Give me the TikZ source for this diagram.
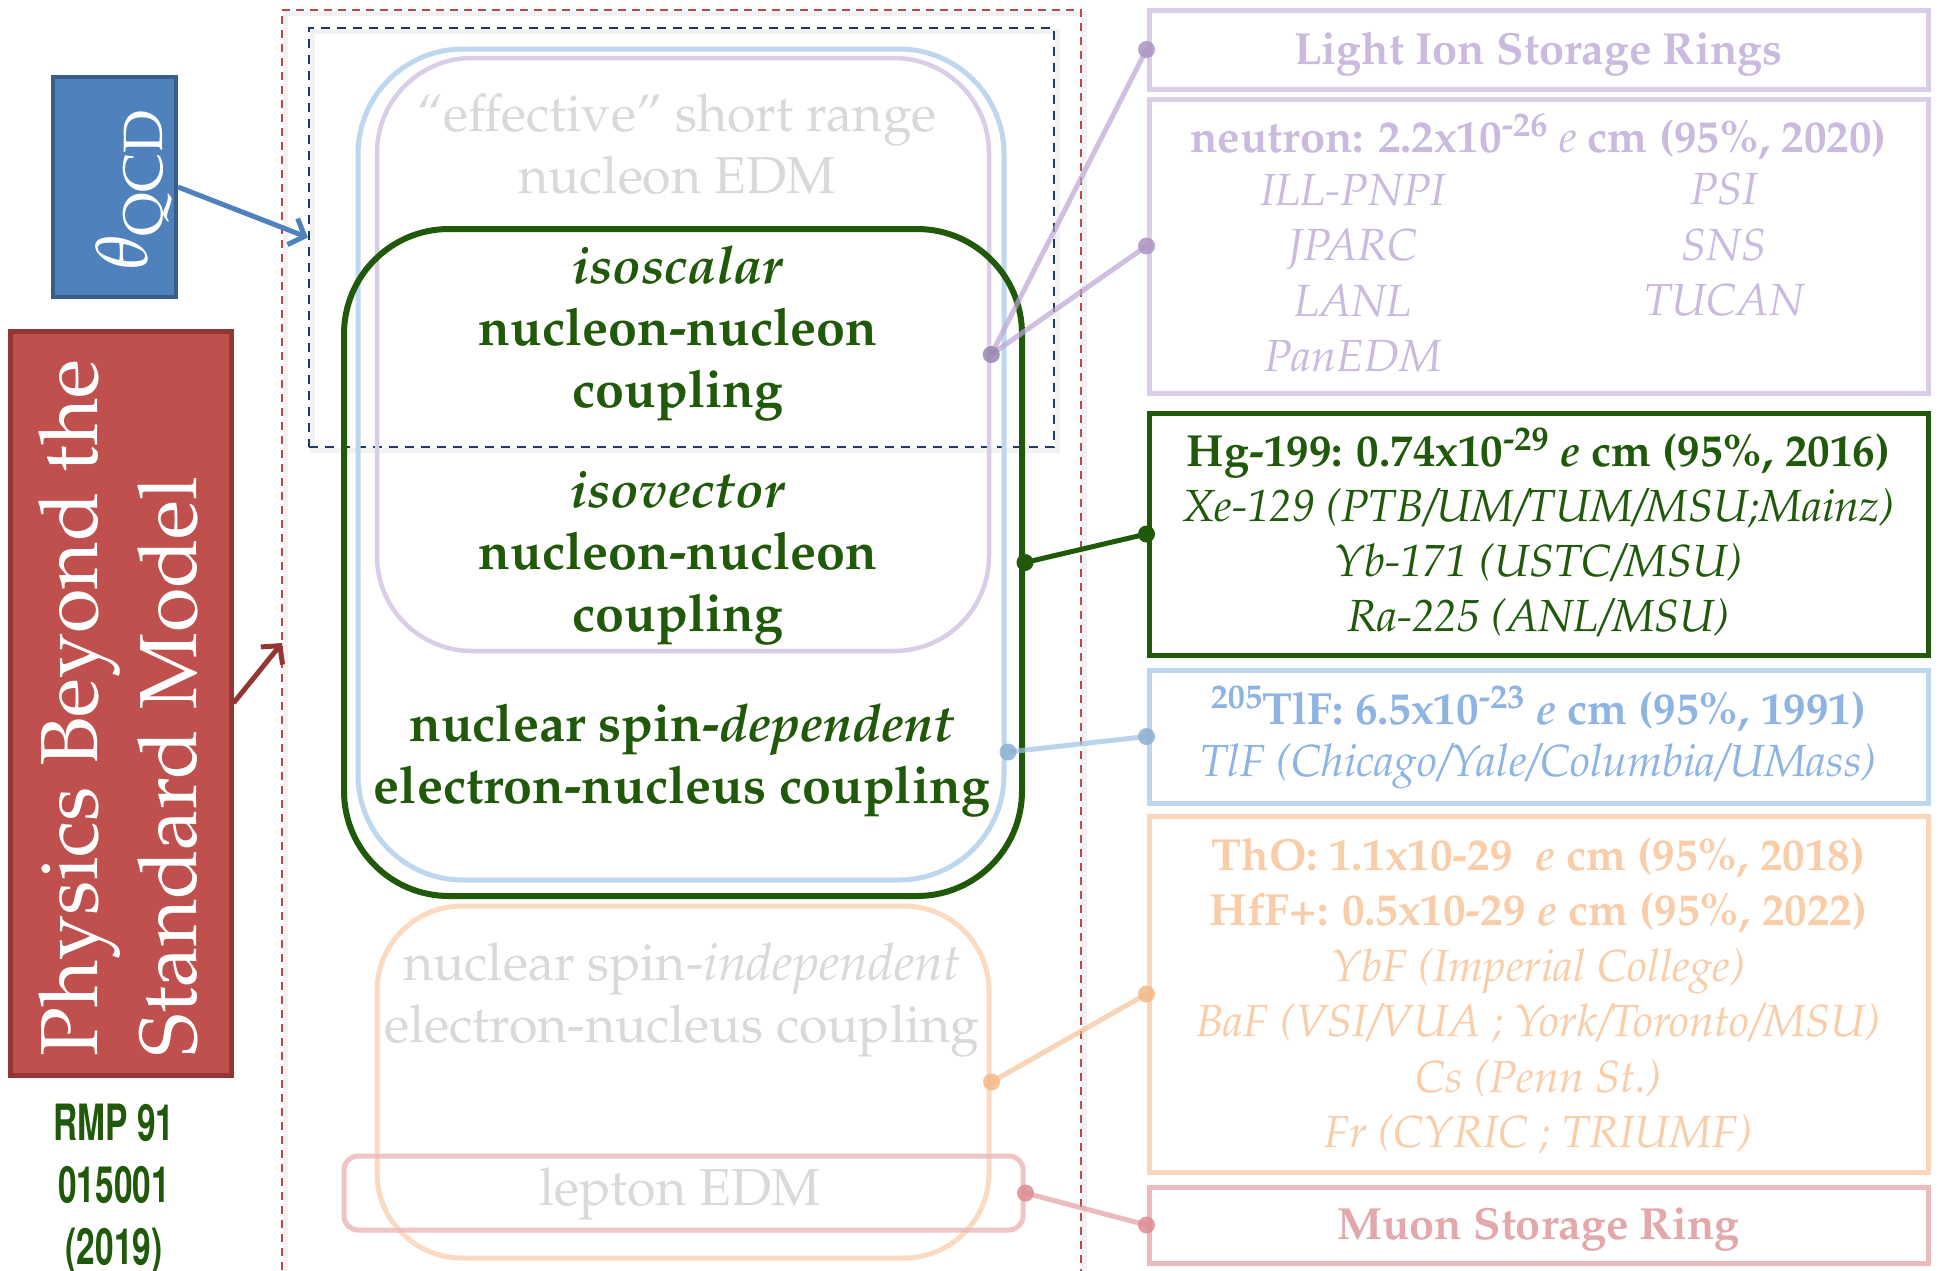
\documentclass[tikz,border=0pt]{standalone}
\usepackage[T1]{fontenc}
\usepackage{mathpazo}
\usepackage{graphicx}
\usetikzlibrary{arrows.meta}
\definecolor{qcdfill}{HTML}{4F81BD}
\definecolor{qcddraw}{HTML}{385D8A}
\definecolor{bsmfill}{HTML}{C0504D}
\definecolor{bsmdraw}{HTML}{943634}
\definecolor{dkgreen}{RGB}{31,89,9}
\definecolor{navy}{HTML}{1F3864}
\definecolor{reddash}{HTML}{B84A48}
\definecolor{ltblue}{HTML}{BDD7EE}
\definecolor{bluetxt}{HTML}{8DB4E2}
\definecolor{bluecon}{HTML}{9DC3E6}
\definecolor{lav}{RGB}{218,205,232}
\definecolor{lavtxt}{RGB}{201,186,222}
\definecolor{lavcon}{RGB}{190,165,215}
\definecolor{peach}{RGB}{250,214,186}
\definecolor{peachtxt}{RGB}{249,205,168}
\definecolor{peachcon}{RGB}{244,185,135}
\definecolor{pink}{RGB}{236,186,186}
\definecolor{pinktxt}{RGB}{226,168,172}
\definecolor{pinkcon}{RGB}{222,140,146}
\definecolor{ltgray}{HTML}{D9D9D9}
\begin{document}
\begin{tikzpicture}[x=1pt,y=-1pt,
  txt/.style={inner sep=0pt, align=center},
  greenfont/.style={font=\fontsize{52}{62}\selectfont\bfseries},
  grayfont/.style={font=\fontsize{52}{62}\selectfont},
  rbox/.style={draw, line width=5pt, minimum width=779pt, inner sep=0pt},
  rrect/.style={draw, line width=5pt, inner sep=0pt},
  con/.style={line width=5pt, opacity=0.7},
  dotr/.style={opacity=0.85},
  shadowline/.style={draw=black, line width=5pt, opacity=0.05}
]
\useasboundingbox[fill=white] (0,0) rectangle (1938,1270);

% soft shadows of the dashed frames
\draw[shadowline] (285,1280) -- (285,13) -- (1084,13) -- (1084,1280);
\draw[shadowline] (312,31) rectangle (1057,450);

% dashed frames
\node[draw=reddash, line width=2pt, dash pattern=on 8pt off 6pt, minimum width=799pt, minimum height=1280pt, inner sep=0pt] (outer) at (681.5,650) {};
\node[draw=navy, line width=2.2pt, dash pattern=on 9pt off 7pt, minimum width=745pt, minimum height=419pt, inner sep=0pt] (navyrect) at (681.5,237.5) {};

% middle rounded rectangles
\node[rrect, draw=ltblue, rounded corners=105pt, minimum width=646pt, minimum height=831pt] (bluerect) at (681,464.5) {};
\node[rrect, draw=lav, line width=4.5pt, rounded corners=95pt, minimum width=612pt, minimum height=593pt] (lavrect) at (683,354.5) {};
\node[rrect, draw=peach, rounded corners=85pt, minimum width=612pt, minimum height=352pt, opacity=0.9] (peachrect) at (683,1082) {};
\node[rrect, draw=pink, rounded corners=14pt, minimum width=679pt, minimum height=74pt, opacity=0.85] (pinkrect) at (683.5,1193) {};
\node[rrect, draw=dkgreen, line width=6pt, rounded corners=105pt, minimum width=678pt, minimum height=667pt] (greenrect) at (683,562.5) {};

% middle texts
\node[txt, grayfont, text=ltgray] (t1) at (677,144) {``effective'' short range\\nucleon EDM};
\node[txt, greenfont, text=dkgreen] (t2) at (678,334) {\textit{isoscalar}\\nucleon-nucleon\\coupling};
\node[txt, greenfont, text=dkgreen] (t3) at (678,558) {\textit{isovector}\\nucleon-nucleon\\coupling};
\node[txt, greenfont, text=dkgreen] (t4) at (682,760) {nuclear spin-\textit{dependent}\\electron-nucleus coupling};
\node[txt, grayfont, text=ltgray] (t5) at (682,1000) {nuclear spin-\textit{independent}\\electron-nucleus coupling};
\node[txt, grayfont, text=ltgray] (t6) at (680,1194) {lepton EDM};

% left boxes
\node[draw=qcddraw, fill=qcdfill, line width=4pt, minimum width=123pt, minimum height=220pt, inner sep=0pt] (qcd) at (114.5,187) {};
\node[txt, rotate=90, text=white, font=\fontsize{73}{88}\selectfont] (qcdtxt) at (134,190) {$\theta_{\mathrm{QCD}}$};
\node[draw=bsmdraw, fill=bsmfill, line width=5pt, minimum width=221pt, minimum height=744pt, inner sep=0pt] (bsm) at (120.5,703) {};
\node[inner sep=0pt, align=left, rotate=90, text=white, font=\fontsize{81}{99}\selectfont] (bsmtxt) at (119,708) {Physics Beyond the\\Standard Model};
\node[txt, text=dkgreen, font=\fontsize{50}{62}\fontfamily{phv}\fontseries{b}\selectfont] (rmp) at (114,1190) {\scalebox{0.67}[1]{RMP 91}\\\scalebox{0.67}[1]{015001}\\\scalebox{0.67}[1]{(2019)}};

% arrows
\coordinate (bsmtip) at (282,643);
\draw[qcdfill, line width=5pt, -{Straight Barb[length=13pt,width=28pt,line width=5pt]}] (qcd.east) -- (navyrect.west);
\draw[bsmdraw, line width=5pt, -{Straight Barb[length=13pt,width=28pt,line width=5pt]}] (bsm.east) -- (bsmtip);

% right boxes
\node[rbox, draw=lav, minimum height=79pt] (lightion) at (1538.5,49.5) {};
\node[txt, text=lavtxt, font=\fontsize{45}{55}\selectfont\bfseries] (lightiontxt) at (1538.5,54) {Light Ion Storage Rings};
\node[rbox, draw=lav, minimum height=294pt] (neutronbox) at (1538.5,246) {};
\node[txt, text=lavtxt, font=\fontsize{45}{55}\selectfont\bfseries] (ntxt) at (1538.5,137) {neutron: 2.2x10\textsuperscript{-26} {\mdseries\itshape e} cm (95\%, 2020)};
\node[txt, text=lavtxt, font=\fontsize{45}{55.5}\selectfont\itshape] (ncol1) at (1353,273) {ILL-PNPI\\JPARC\\LANL\\PanEDM};
\node[txt, text=lavtxt, font=\fontsize{45}{55.5}\selectfont\itshape] (ncol2) at (1724,245) {PSI\\SNS\\TUCAN};

\node[rbox, draw=dkgreen, minimum height=242pt] (hgbox) at (1538.5,534) {};
\node[txt, text=dkgreen, font=\fontsize{45}{55}\selectfont] (hgtxt) at (1538.5,532) {\textbf{Hg-199: 0.74x10\textsuperscript{-29} \textit{e} cm (95\%, 2016)}\\\textit{Xe-129 (PTB/UM/TUM/MSU;Mainz)}\\\textit{Yb-171 (USTC/MSU)}\\\textit{Ra-225 (ANL/MSU)}};

\node[rbox, draw=ltblue, minimum height=133pt] (tlfbox) at (1538.5,736.5) {};
\node[txt, text=bluetxt, font=\fontsize{45}{52}\selectfont] (tlftxt) at (1538.5,737.5) {\textbf{\textsuperscript{205}TlF: 6.5x10\textsuperscript{-23} \textit{e} cm (95\%, 1991)}\\\textit{TlF (Chicago/Yale/Columbia/UMass)}};

\node[rbox, draw=peach, minimum height=356pt] (thobox) at (1538.5,994) {};
\node[txt, text=peachtxt, font=\fontsize{45}{55.5}\selectfont] (thotxt) at (1538.5,996) {\textbf{ThO: 1.1x10-29~ \textit{e} cm (95\%, 2018)}\\\textbf{HfF+: 0.5x10-29 \textit{e} cm (95\%, 2022)}\\\textit{YbF (Imperial College)}\\\textit{BaF (VSI/VUA ; York/Toronto/MSU)}\\\textit{Cs (Penn St.)}\\\textit{Fr (CYRIC ; TRIUMF)}};

\node[rbox, draw=pink, minimum height=76pt] (muonbox) at (1538.5,1225) {};
\node[txt, text=pinktxt, font=\fontsize{45}{55}\selectfont\bfseries] (muontxt) at (1538.5,1229) {Muon Storage Ring};

% connectors
\coordinate (bluedot) at (1008,752);
\draw[con, lavcon] (lavrect.east) -- (lightion.west);
\draw[con, lavcon] (lavrect.east) -- (neutronbox.west);
\draw[con, dkgreen, opacity=1] (greenrect.east) -- (hgbox.west);
\draw[con, bluecon] (bluedot) -- (tlfbox.west);
\draw[con, peachcon, opacity=0.6] (peachrect.east) -- (thobox.west);
\draw[con, pinkcon, opacity=0.6] (pinkrect.east) -- (muonbox.west);

\fill[dotr, lavcon!80!black] (lavrect.east) circle (8.5pt);
\fill[dotr, lavcon!90!black] (lightion.west) circle (8.5pt);
\fill[dotr, lavcon!90!black] (neutronbox.west) circle (8.5pt);
\fill[dkgreen] (greenrect.east) circle (8.5pt);
\fill[dkgreen] (hgbox.west) circle (8.5pt);
\fill[dotr, bluecon!90!black] (bluedot) circle (8.5pt);
\fill[dotr, bluecon!90!black] (tlfbox.west) circle (8.5pt);
\fill[dotr, peachcon] (peachrect.east) circle (8.5pt);
\fill[dotr, peachcon] (thobox.west) circle (8.5pt);
\fill[dotr, pinkcon] (pinkrect.east) circle (8.5pt);
\fill[dotr, pinkcon] (muonbox.west) circle (8.5pt);
\end{tikzpicture}
\end{document}
